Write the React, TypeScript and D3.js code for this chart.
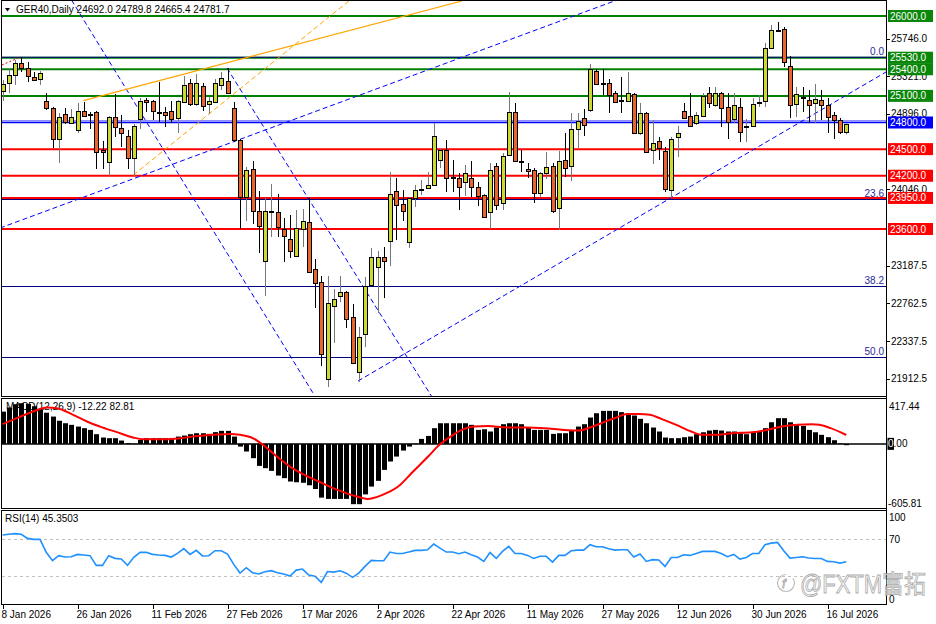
import React from "react";
import * as d3 from "d3";

// ---- Daily OHLC, bar 0 = 8 Jan 2026 ----
const opens = [25155,25245,25335,25470,25414,25313,25290,25042,24963,24614,24896,24794,24716,24930,24900,24918,24490,24355,24862,24738,24648,24400,24839,25053,25042,24922,24918,24930,24851,25031,25245,25008,25211,25008,25031,25223,25268,24963,24603,23961,24276,23803,23239,23792,23792,23600,23487,23296,23600,23679,23149,23003,21909,22732,22845,22890,22608,21989,22417,22969,23172,23284,23465,24028,23882,23453,23949,24045,24062,24096,24377,24490,24190,24175,24130,24175,24073,23983,23792,24310,23893,24434,24918,24366,24276,24265,24006,24231,24310,23837,24377,24310,24727,24851,24941,25380,25250,25245,25132,25056,25042,25121,24682,24907,24490,24592,24479,24039,24637,24930,24873,24794,24873,25132,24997,25132,24975,24839,24975,24749,24761,25028,25042,25639,25842,25854,25437,25008,25090,25053,25020,25053,24997,24885,24828,24692.0];
const highs = [25279,25414,25504,25538,25482,25369,25380,25132,24975,24907,24963,24952,25020,25031,24918,24930,24592,24873,25121,24885,24716,24783,25076,25076,25053,25256,24975,25042,25053,25324,25290,25347,25245,25087,25290,25369,25414,25031,24614,24299,24366,24028,23950,24107,23994,23724,23758,23814,23825,23950,23262,23071,23071,22924,23071,22901,22755,22496,23059,23386,23352,23397,24242,24175,24039,23961,24096,24152,24242,24794,24513,24603,24377,24231,24321,24366,24130,23990,24344,24344,24456,25144,25020,24490,24344,24287,24242,24468,24344,24479,24682,24907,24907,24952,25459,25403,25403,25290,25155,25313,25369,25132,25020,24918,24828,24637,24524,24637,24761,25020,25132,24918,25132,25200,25200,25144,25132,25132,25076,24839,25076,25110,25696,25899,25932,25876,25549,25200,25200,25166,25234,25166,25076,24918,24851,24789.8];
const lows = [25042,25132,25223,25369,25256,25268,25223,24941,24513,24344,24783,24783,24682,24862,24727,24276,24276,24197,24637,24524,24276,24197,24727,24918,24828,24806,24749,24794,24682,25020,24986,24986,24930,24896,25025,25166,25121,24580,23600,23690,23656,23329,22845,23510,23510,23228,23273,23284,23397,23104,22710,22056,21820,22316,22777,22484,22085,21876,22270,22958,22653,22822,23183,23476,23690,23386,23848,23983,24051,24090,24287,24017,24017,23814,23972,23961,23859,23724,23600,23814,23814,24423,24355,24242,24175,23893,23961,24163,23780,23589,24186,24141,24513,24648,24918,25223,25110,24907,25020,24907,25031,24670,24659,24456,24332,24377,24017,23950,24411,24839,24749,24772,24862,24963,24975,24749,24614,24794,24580,24580,24749,24975,24975,25630,25820,25425,24851,24862,24918,24794,24794,24828,24682,24614,24670,24665.4];
const closes = [25234,25335,25470,25414,25324,25279,25358,24963,24614,24862,24806,24862,24930,24873,24893,24468,24468,24862,24749,24682,24400,24761,25042,25031,24930,24915,24885,24839,25042,25223,25008,25245,24986,25042,25245,25301,25132,24603,23961,24265,23803,23634,23803,23800,23622,23521,23352,23611,23690,23116,22992,22191,22766,22811,22890,22586,22090,22383,22958,23284,23284,23239,23994,23870,23803,23949,24039,24051,24096,24648,24490,24175,24186,24073,24231,24073,23972,23735,24265,23870,24423,24918,24366,24360,24253,24006,24231,24299,23803,24366,24287,24727,24817,24772,25403,25234,25245,25110,25031,25050,25132,24682,24907,24468,24569,24513,24051,24614,24682,24851,24761,24885,25099,25020,25132,24963,24806,24997,24693,24761,25008,25034,25639,25842,25836,25482,24997,25121,25087,24997,25065,24997,24862,24828,24693,24781.7];

// ---- MACD(12,26,9) ----
const macdHist = [300,338,369,378,372,350,320,290,254,215,192,177,161,146,130,90,59,53,53,31,8,2,37,53,53,53,53,53,68,77,90,99,99,93,109,121,121,68,-25,-71,-133,-205,-226,-251,-295,-319,-350,-357,-362,-385,-420,-500,-512,-512,-512,-512,-561,-561,-470,-397,-344,-242,-164,-118,-62,-25,3,46,74,146,192,192,192,192,192,177,130,136,115,152,183,192,192,183,152,130,130,130,93,99,99,130,161,183,245,285,307,307,307,295,285,264,233,192,152,115,59,53,53,62,68,90,108,124,130,124,115,115,99,90,108,115,146,201,239,239,201,177,167,130,108,84,62,34,5,-12.22];
const macdSignalBars = [0,2.3,4.9,7.1,8.7,11.3,13.5,15.6,18.3,20.9,22.5,26.3,28.4,30.5,33.7,36.4,38,40.1,41.7,43.9,46,48,50.6,53.6,56.7,58.4,60.8,63.3,65.7,68.1,69.9,71.7,73.5,75.4,77.7,80.7,83.7,86.7,89.8,92.2,94,95.8,98.2,100,101.8,103.6,105.4,107.8,110.2,112,113.8,116.8,119.9,122.3,124.7,127.1,129.5,130.7,132.5,135];
const macdSignalVals = [183,239,301,338,332,270,208,161,109,59,43,43,52,68,84,93,84,52,-9,-118,-211,-280,-350,-428,-490,-512,-474,-397,-257,-118,-9,68,130,161,167,152,152,146,130,124,152,192,245,279,279,270,233,177,115,84,84,99,108,130,161,177,183,177,146,82.81];

// ---- RSI(14) ----
const rsi = [74.3,75.2,75.8,75.2,70.7,69.6,69.6,55.6,46.6,52,50.5,50.8,53.4,52.7,52,41.5,41.5,52,49.1,48.4,41.5,50.2,55.6,55.6,53.4,52.7,52.3,50.5,54.5,59.6,53.4,57.8,51.7,52,57.4,57.4,53.8,42.6,33.2,39,33.6,32.2,34.7,35.8,33.6,32.2,30,36.4,37.5,31,29.8,23.1,34.9,34.2,35.6,33.1,28.5,33.1,40.4,46.9,46.5,46.5,55.9,54.4,54.4,55.9,57.7,57.7,58.4,64.5,60.2,55.9,55.9,54.1,55.9,53,50.5,45.8,55.5,49,56.6,62,54.4,54.4,52.3,49,51.3,51.3,45.1,52.3,52.3,57.3,58,58,63.8,61.6,61.6,59.5,58,58.4,58.4,50.5,53.8,45.8,47.7,47.3,40.4,50.1,50.1,53,52.3,54.4,56.6,56.6,56.6,54.4,50.9,53.4,48.3,50.1,54.4,54.4,63.8,65.6,66.3,57.3,49.4,50.1,50.9,49.4,49,49,45.8,45.4,44,45.35];

// ---- axes ----
const dateTickBars = [0,12,24,36,48,60,72,84,96,108,120,132];
const dateTickLabels = ["8 Jan 2026","26 Jan 2026","11 Feb 2026","27 Feb 2026","17 Mar 2026","2 Apr 2026","22 Apr 2026","11 May 2026","27 May 2026","12 Jun 2026","30 Jun 2026","16 Jul 2026"];
const priceTicks = [25746, 25321, 24896, 24046, 23187.5, 22762.5, 22337.5, 21912.5];
const macdAxis = [417.44, 0, -605.81];
const rsiAxis = [100, 70, 0];

// ---- drawn objects ----
const greenLevels = [26000, 25530, 25400, 25100];
const blueLevels = [24800];
const redLevels = [24500, 24200, 23950, 23600];
const fibLabels = ["0.0", "23.6", "38.2", "50.0"];
const fibPrices = [25535, 23940, 22955, 22158];
const blueTrendStart = [[11.04, 26180], [35.92, 25414], [-0.4, 23611], [56.88, 21887]];
const blueTrendEnd = [[49.68, 21752], [68.72, 21707], [98.32, 26180], [141.36, 25369]];
const orangeSolid = [[12.93, 25046], [73.52, 26169]];
const orangeDash = [[20.93, 24208], [55.6, 26180]];
const redDotted = [[-0.08, 25448], [2.48, 25527]];

const FONT = "Liberation Sans, Arial, sans-serif";

export default function App() {
  const x = d3.scaleLinear().domain([0, 135]).range([2.5, 846.25]);
  const y = d3.scaleLinear().domain([26000, 23600]).range([16, 229]);
  const ym = d3.scaleLinear().domain([417.44, -605.81]).range([399, 509]);
  const yr = d3.scaleLinear().domain([100, 0]).range([511.3, 603.75]);
  const RX = 886.5;

  const sig = d3.line<number>().x((d, i) => x(macdSignalBars[i])).y((d) => ym(d)).curve(d3.curveMonotoneX)(macdSignalVals) || "";
  const rsiPath = d3.line<number>().x((d, i) => x(i)).y((d) => yr(d))(rsi) || "";
  const seg = (a: number[], b: number[]) => ({ x1: x(a[0]), y1: y(a[1]), x2: x(b[0]), y2: y(b[1]) });

  const label = (v: number, bg: string, key: string) => {
    const yy = y(v);
    return (
      <g key={key}>
        <rect x={888} y={yy - 6} width={45} height={12} fill={bg} />
        <text x={890} y={yy + 3.5} fill="#fff" fontSize={10}>{v.toFixed(1)}</text>
      </g>
    );
  };

  return (
    <svg width={936} height={624} style={{ position: "absolute", left: 0, top: 0, background: "#fff" }} fontFamily={FONT}>
      <defs>
        <clipPath id="cm"><rect x={2} y={1} width={884} height={395} /></clipPath>
        <clipPath id="cd"><rect x={2} y={399} width={884} height={109} /></clipPath>
        <clipPath id="cr"><rect x={2} y={511} width={884} height={93} /></clipPath>
      </defs>
      <rect width={936} height={624} fill="#fff" />

      {/* ===== main panel ===== */}
      <g clipPath="url(#cm)">
        {fibPrices.map((p, i) => (
          <line key={"f" + i} x1={2} x2={886} y1={Math.round(y(p)) + 0.5} y2={Math.round(y(p)) + 0.5} stroke="#000080" strokeWidth={1} />
        ))}
        {greenLevels.map((p) => (
          <line key={"g" + p} x1={2} x2={886} y1={y(p)} y2={y(p)} stroke="#008000" strokeWidth={2} />
        ))}
        {fibPrices.slice(0, 1).map((p) => (
          <line key={"f0"} x1={2} x2={886} y1={y(p)} y2={y(p)} stroke="#000080" strokeWidth={1.2} />
        ))}
        <line x1={2} x2={886} y1={y(24820)} y2={y(24820)} stroke="#8f8fff" strokeWidth={1.5} />
        {blueLevels.map((p) => (
          <line key={"b" + p} x1={2} x2={886} y1={y(p)} y2={y(p)} stroke="#0000ff" strokeWidth={1.3} />
        ))}
        {redLevels.map((p) => (
          <line key={"r" + p} x1={2} x2={886} y1={y(p)} y2={y(p)} stroke="#ff0000" strokeWidth={2} />
        ))}
        {blueTrendStart.map((a, i) => (
          <line key={"bt" + i} {...seg(a, blueTrendEnd[i])} stroke="#0000ff" strokeWidth={1} strokeDasharray="5,3" />
        ))}
        <line {...seg(orangeSolid[0], orangeSolid[1])} stroke="#ffa500" strokeWidth={1.2} />
        <line {...seg(orangeDash[0], orangeDash[1])} stroke="#ffa500" strokeWidth={1} strokeDasharray="5,3" />
        <line {...seg(redDotted[0], redDotted[1])} stroke="#ff0000" strokeWidth={1} strokeDasharray="2,2" />

        {opens.map((o, i) => {
          const c = closes[i];
          const bull = c >= o;
          const cx = Math.round(x(i));
          const top = Math.round(y(Math.max(o, c))) + 0.5;
          let bot = Math.round(y(Math.min(o, c))) + 0.5;
          if (bot - top < 1) bot = top + 1;
          return (
            <g key={"c" + i}>
              <line x1={cx + 0.5} x2={cx + 0.5} y1={y(highs[i])} y2={y(lows[i])} stroke={bull ? "#777" : "#000"} strokeWidth={1} />
              <rect x={cx - 1.5} y={top} width={4} height={bot - top} fill={bull ? "#cdd932" : "#e8662c"} stroke="#000" strokeWidth={1} />
            </g>
          );
        })}

        {fibLabels.map((t, i) => (
          <text key={"fl" + i} x={884} y={y(fibPrices[i]) - 2} textAnchor="end" fontSize={10} fill="#2a2a9a">{t}</text>
        ))}
      </g>
      <path d="M5,8 L10,8 L7.5,11.5 Z" fill="#000" />
      <text x={16} y={13} fontSize={10} fill="#000">GER40,Daily  24692.0 24789.8 24665.4 24781.7</text>

      {/* ===== MACD panel ===== */}
      <text x={6} y={410} fontSize={10} fill="#000">MACD(12,26,9) -12.22 82.81</text>
      <g clipPath="url(#cd)">
        {macdHist.map((v, i) => {
          const cx = Math.round(x(i));
          const y0 = ym(0), y1 = ym(v);
          return <rect key={"m" + i} x={cx - 2} y={Math.min(y0, y1)} width={5} height={Math.max(0.5, Math.abs(y1 - y0))} fill="#000" />;
        })}
        <line x1={2} x2={886} y1={ym(0)} y2={ym(0)} stroke="#000" strokeWidth={1.5} />
        <path d={sig} fill="none" stroke="#ff0000" strokeWidth={2} />
      </g>

      {/* ===== RSI panel ===== */}
      <text x={5} y={522} fontSize={10} fill="#000">RSI(14) 45.3503</text>
      <g clipPath="url(#cr)">
        {[70, 30].map((v) => (
          <line key={"rl" + v} x1={2} x2={886} y1={Math.round(yr(v)) + 0.5} y2={Math.round(yr(v)) + 0.5} stroke="#c0c0c0" strokeDasharray="3,3" />
        ))}
        <path d={rsiPath} fill="none" stroke="#1e90ff" strokeWidth={1.6} />
      </g>

      {/* ===== frames ===== */}
      <rect x={1.5} y={0.5} width={885} height={396} fill="none" stroke="#000" />
      <rect x={1.5} y={398.5} width={885} height={110} fill="none" stroke="#000" />
      <rect x={1.5} y={510.5} width={885} height={94} fill="none" stroke="#000" />
      <line x1={RX} x2={RX} y1={0} y2={605} stroke="#000" />

      {/* ===== right axis ===== */}
      {priceTicks.map((v) => (
        <g key={"pt" + v}>
          <line x1={886} x2={890} y1={Math.round(y(v)) + 0.5} y2={Math.round(y(v)) + 0.5} stroke="#000" />
          <text x={891} y={y(v) + 3.5} fontSize={10} fill="#000">{v.toFixed(1)}</text>
        </g>
      ))}
      {greenLevels.map((v) => label(v, "#0a870a", "gl" + v))}
      {blueLevels.map((v) => label(v, "#0000ff", "bl" + v))}
      {redLevels.map((v) => label(v, "#ff0000", "rl" + v))}

      <text x={889} y={410} fontSize={10} fill="#000">{macdAxis[0].toFixed(2)}</text>
      <rect x={887.5} y={ym(macdAxis[1]) - 6} width={6.5} height={12} fill="#000" />
      <text x={888} y={ym(macdAxis[1]) + 3.5} fontSize={10} fill="#000"><tspan fill="#fff">0</tspan>.00</text>
      <text x={888} y={507} fontSize={10} fill="#000">{macdAxis[2].toFixed(2)}</text>

      <text x={889} y={521} fontSize={10} fill="#000">{rsiAxis[0]}</text>
      <text x={889} y={yr(rsiAxis[1]) + 3.5} fontSize={10} fill="#000">{rsiAxis[1]}</text>
      <text x={889} y={603} fontSize={10} fill="#000">{rsiAxis[2]}</text>

      {/* ===== dates ===== */}
      {dateTickBars.map((b, i) => (
        <g key={"d" + b}>
          <line x1={Math.round(x(b)) + 0.5} x2={Math.round(x(b)) + 0.5} y1={605} y2={609} stroke="#000" />
          <text x={x(b) - 1} y={618} fontSize={10} fill="#000">{dateTickLabels[i]}</text>
        </g>
      ))}

      {/* ===== watermark ===== */}
      <g opacity={0.85}>
        <circle cx={786} cy={583} r={8.5} fill="none" stroke="#b0b0b0" strokeWidth={1.2} strokeDasharray="40,8" />
        <text x={782} y={588} fontSize={13} fontStyle="italic" fill="none" stroke="#a0a0a0" strokeWidth={0.8}>f</text>
        <text x={800} y={593} fontSize={25} fontFamily="Liberation Sans, Noto Sans CJK SC, sans-serif" fill="#f6f6f6" stroke="#9a9a9a" strokeWidth={0.8} textLength={126} lengthAdjust="spacingAndGlyphs">@FXTM富拓</text>
      </g>
    </svg>
  );
}
